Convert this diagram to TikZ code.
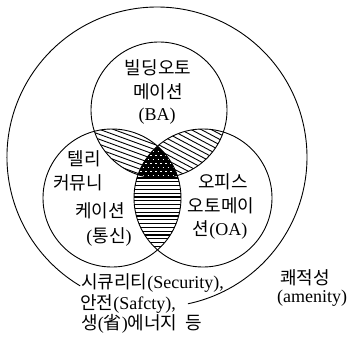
\documentclass[tikz,border=0pt]{standalone}
\usepackage{fontspec}
\setmainfont{Liberation Serif}
\newfontfamily\cjk{Noto Sans CJK KR}
\begin{document}
\begin{tikzpicture}[x=1pt,y=-1pt,
  lbl/.style={inner sep=0pt, font=\fontsize{18}{20}\selectfont},
  ring/.style={draw=black, line width=0.9pt},
  hatch/.style={draw=black, line width=0.9pt}]
\useasboundingbox (0,0) rectangle (350,342);
% left lens: BA and telecom
\begin{scope}
  \clip (159,110) circle[radius=68pt];
  \clip (112,198) circle[radius=69pt];
  \foreach \y in {40,45,...,200} \draw[hatch] (60,\y) -- (260,\y+72.8);
\end{scope}
% right lens: BA and OA
\begin{scope}
  \clip (159,110) circle[radius=68pt];
  \clip (203,198) circle[radius=69pt];
  \foreach \y in {0,5.4,...,200} \draw[hatch] (120,\y) -- (260,\y+74.4);
\end{scope}
% bottom lens: telecom and OA
\begin{scope}
  \clip (112,198) circle[radius=69pt];
  \clip (203,198) circle[radius=69pt];
  \foreach \y in {140,143.8,...,260} \draw[hatch, line width=1.1pt] (120,\y) -- (200,\y);
\end{scope}
% triple region
\begin{scope}
  \clip (159,110) circle[radius=68pt];
  \clip (112,198) circle[radius=69pt];
  \clip (203,198) circle[radius=69pt];
  \fill[black] (130,135) rectangle (190,190);
  \foreach \y [count=\i] in {151,155,...,178}
    \draw[white, line width=0.9pt, dash pattern=on 1.6pt off 3.4pt, dash phase=\i*2.5pt] (130,\y) -- (190,\y);
\end{scope}
% circles
\draw[ring] (159,110) circle[radius=68pt];
\draw[ring] (112,198) circle[radius=69pt];
\draw[ring] (203,198) circle[radius=69pt];
\draw[ring] (187.9,303.8) arc[start angle=-78.1, end angle=239.2, radius=150pt];
% labels
\node[lbl] (ba1) at (158,68) {\cjk 빌딩오토};
\node[lbl] (ba2) at (158,92) {\cjk 메이션};
\node[lbl] (ba3) at (157,116) {(BA)};
\node[lbl] (tc1) at (84,159) {\cjk 텔리};
\node[lbl] (tc2) at (78,183) {\cjk 커뮤니};
\node[lbl] (tc3) at (100,211) {\cjk 케이션};
\node[lbl] (tc4) at (109,237) {(\cjk 통신\rmfamily)};
\node[lbl] (oa1) at (223,182) {\cjk 오피스};
\node[lbl] (oa2) at (221,206) {\cjk 오토메이};
\node[lbl] (oa3) at (220,230) {{\cjk 션}(OA)};
\node[lbl, anchor=west] (bt1) at (81,283) {{\cjk 시큐리티}(Security),};
\node[lbl, anchor=west] (bt2) at (80,304) {{\cjk 안전}(Safcty),};
\node[lbl, anchor=west] (bt3) at (81,324) {{\cjk 생}({\cjk 省}){\cjk 에너지}\hspace{8pt}{\cjk 등}};
\node[lbl] (am1) at (305,278) {\cjk 쾌적성};
\node[lbl] (am2) at (312,298) {(amenity)};
\end{tikzpicture}
\end{document}
